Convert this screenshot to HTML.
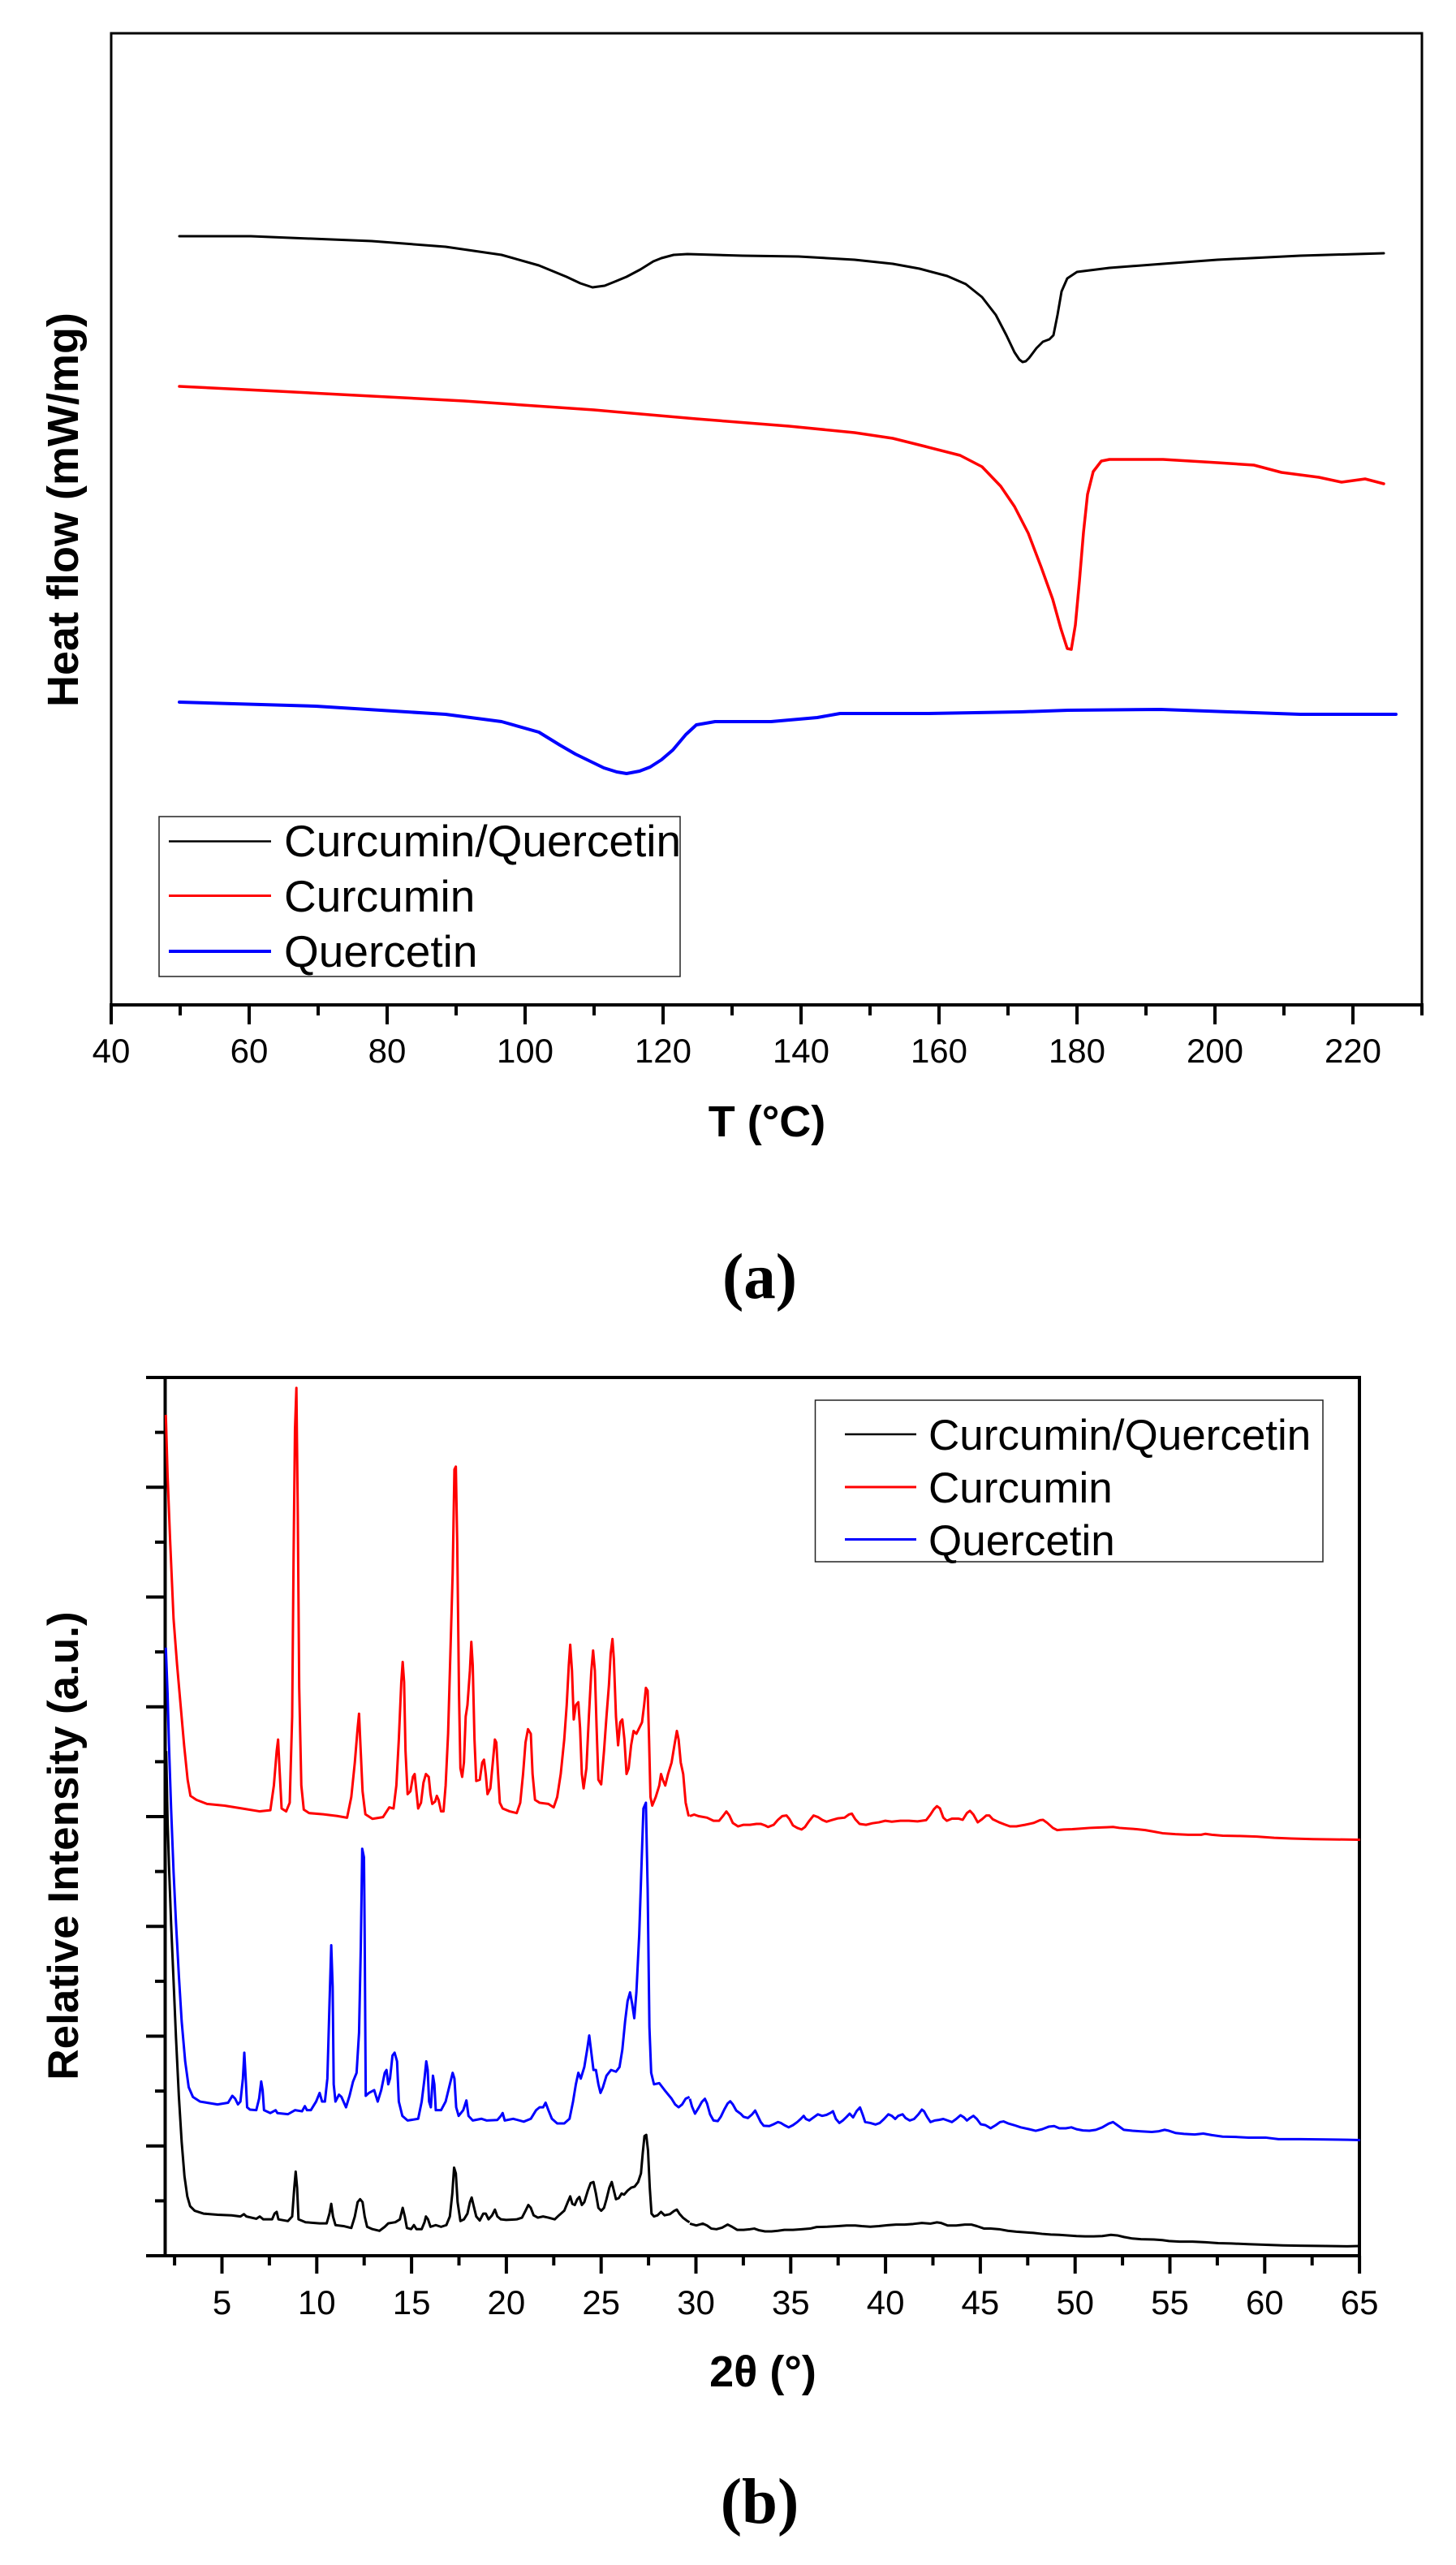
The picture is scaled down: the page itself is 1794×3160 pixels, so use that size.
<!DOCTYPE html>
<html>
<head>
<meta charset="utf-8">
<style>
html,body{margin:0;padding:0;background:#fff;}
svg{display:block;}
text{font-family:"Liberation Sans",Arial,sans-serif;fill:#000;}
.ser{font-family:"Liberation Serif","Times New Roman",serif;font-weight:bold;}
</style>
</head>
<body>
<svg width="1794" height="3160" viewBox="0 0 1794 3160" xmlns="http://www.w3.org/2000/svg">
<rect x="0" y="0" width="1794" height="3160" fill="#fff"/>

<!-- Panel A -->
<rect x="137" y="41" width="1615" height="1197" fill="none" stroke="#000" stroke-width="3"/>
<path d="M135,1238H1754 M137,1238v24 M307,1238v24 M477,1238v24 M647,1238v24 M817,1238v24 M987,1238v24 M1157,1238v24 M1327,1238v24 M1497,1238v24 M1667,1238v24 M222,1238v13 M392,1238v13 M562,1238v13 M732,1238v13 M902,1238v13 M1072,1238v13 M1242,1238v13 M1412,1238v13 M1582,1238v13 M1752,1238v13" stroke="#000" stroke-width="4" fill="none"/>
<g font-size="42" text-anchor="middle">
<text x="137" y="1309">40</text><text x="307" y="1309">60</text><text x="477" y="1309">80</text><text x="647" y="1309">100</text><text x="817" y="1309">120</text><text x="987" y="1309">140</text><text x="1157" y="1309">160</text><text x="1327" y="1309">180</text><text x="1497" y="1309">200</text><text x="1667" y="1309">220</text>
</g>

<g fill="none" stroke-linejoin="round" stroke-linecap="round">
<polyline stroke="#000" stroke-width="3" points="221,291 309,291 458,297 549,304 618,314 664,327 698,341 715,349 730,354 745,352 755,348 772,341 789,332 805,322 815,318 830,314 847,313 915,315 984,316 1053,320 1100,325 1133,331 1167,340 1190,350 1210,366 1227,388 1240,413 1250,434 1256,443 1260,446 1264,445 1268,441 1277,429 1285,421 1293,418 1298,413 1303,388 1308,359 1315,343 1327,335 1367,330 1433,325 1500,320 1602,315 1705,312"/>
<polyline stroke="#ff0000" stroke-width="3.5" points="221,476 343,482 458,488 572,494 732,505 858,516 972,525 1053,533 1100,540 1140,550 1183,561 1210,575 1233,599 1250,624 1267,657 1283,699 1297,738 1307,774 1315,799 1320,800 1325,770 1330,716 1335,656 1340,609 1347,581 1357,568 1367,566 1433,566 1500,570 1545,573 1579,582 1625,588 1653,594 1682,590 1705,596"/>
<polyline stroke="#0000ff" stroke-width="4" points="221,865 389,870 549,880 618,889 664,902 690,918 709,929 744,946 760,951 772,953 788,950 801,945 815,936 829,924 845,905 858,893 881,889 950,889 1007,884 1035,879 1144,879 1258,877 1316,875 1430,874 1487,876 1602,880 1720,880"/>
</g>

<rect x="196" y="1006" width="642" height="197" fill="#fff" stroke="#222" stroke-width="1.5"/>
<path d="M208,1036.5H334" stroke="#000" stroke-width="2.5"/>
<path d="M208,1103.5H334" stroke="#ff0000" stroke-width="3"/>
<path d="M208,1172H334" stroke="#0000ff" stroke-width="4"/>
<g font-size="55">
<text x="350" y="1055">Curcumin/Quercetin</text>
<text x="350" y="1123">Curcumin</text>
<text x="350" y="1191">Quercetin</text>
</g>

<text transform="translate(96,628) rotate(-90)" text-anchor="middle" font-size="54" font-weight="bold">Heat flow (mW/mg)</text>
<text x="945" y="1400" text-anchor="middle" font-size="54" font-weight="bold">T (°C)</text>
<text class="ser" x="936" y="1599" text-anchor="middle" font-size="79">(a)</text>

<!-- Panel B -->
<rect x="203.5" y="1697" width="1471.5" height="1082" fill="none" stroke="#000" stroke-width="4"/>
<path d="M180,1697h24 M180,1832.3h24 M180,1967.5h24 M180,2102.8h24 M180,2238h24 M180,2373.3h24 M180,2508.5h24 M180,2643.8h24 M180,2779h24 M191,1764.6h13 M191,1899.9h13 M191,2035.1h13 M191,2170.4h13 M191,2305.6h13 M191,2440.9h13 M191,2576.1h13 M191,2711.4h13 M273.5,2779v22 M390.3,2779v22 M507.1,2779v22 M623.9,2779v22 M740.7,2779v22 M857.5,2779v22 M974.3,2779v22 M1091.1,2779v22 M1207.9,2779v22 M1324.7,2779v22 M1441.5,2779v22 M1558.3,2779v22 M1675.1,2779v22 M215.1,2779v12 M331.9,2779v12 M448.7,2779v12 M565.5,2779v12 M682.3,2779v12 M799.1,2779v12 M915.9,2779v12 M1032.7,2779v12 M1149.5,2779v12 M1266.3,2779v12 M1383.1,2779v12 M1499.9,2779v12 M1616.7,2779v12" stroke="#000" stroke-width="4" fill="none"/>
<g font-size="42" text-anchor="middle">
<text x="273.5" y="2851">5</text><text x="390.3" y="2851">10</text><text x="507.1" y="2851">15</text><text x="623.9" y="2851">20</text><text x="740.7" y="2851">25</text><text x="857.5" y="2851">30</text><text x="974.3" y="2851">35</text><text x="1091.1" y="2851">40</text><text x="1207.9" y="2851">45</text><text x="1324.7" y="2851">50</text><text x="1441.5" y="2851">55</text><text x="1558.3" y="2851">60</text><text x="1675.1" y="2851">65</text>
</g>

<g transform="translate(190,1690) scale(0.43367,0.70791)" fill="none" stroke-width="3" stroke-linejoin="round">
<polyline vector-effect="non-scaling-stroke" stroke="#ff0000" points="33,75 38,180 45,290 55,430 65,510 75,580 85,650 95,710 103,738 120,745 150,752 200,755 250,760 300,765 330,763 340,720 348,660 352,640 356,690 362,760 375,765 385,750 392,600 396,320 400,100 404,28 408,250 412,550 418,720 425,762 440,768 480,770 520,773 548,776 560,740 570,680 578,620 582,595 586,650 592,730 600,770 620,778 650,775 668,758 680,760 688,720 695,640 702,540 706,505 710,540 714,660 720,735 728,730 735,705 740,700 745,730 750,760 758,750 765,715 772,700 780,705 785,735 790,752 798,748 803,738 808,745 815,765 822,765 828,720 835,630 842,480 848,350 853,170 857,165 861,300 866,560 870,690 875,705 880,680 885,600 890,580 897,520 901,470 905,510 910,640 915,712 925,710 932,680 937,675 942,700 947,735 955,725 962,680 968,640 972,645 977,700 982,750 990,760 1010,765 1030,768 1040,750 1048,700 1055,645 1062,622 1070,630 1075,700 1082,745 1095,750 1120,752 1135,758 1145,740 1155,700 1165,640 1172,580 1178,510 1182,475 1187,520 1192,605 1198,580 1205,575 1210,620 1215,700 1220,725 1228,690 1235,600 1242,520 1247,485 1252,520 1257,620 1262,710 1270,718 1278,660 1285,600 1292,545 1297,490 1302,465 1306,500 1312,600 1318,650 1324,610 1330,605 1336,640 1342,700 1348,690 1355,650 1362,625 1370,630 1378,620 1386,610 1392,580 1397,550 1402,555 1406,640 1410,740 1415,755 1425,740 1435,720 1440,700 1445,710 1452,720 1460,700 1470,680 1478,650 1485,625 1490,640 1496,680 1503,700 1510,750 1518,772 1521,772"/>
<polyline vector-effect="non-scaling-stroke" stroke="#0000ff" points="33,480 38,560 42,650 48,760 55,870 62,960 70,1050 78,1130 88,1200 98,1245 110,1262 130,1270 150,1272 180,1275 210,1272 222,1260 230,1265 238,1275 245,1270 252,1230 256,1185 260,1230 264,1280 272,1284 290,1285 298,1265 304,1235 308,1250 312,1285 330,1290 345,1285 350,1290 380,1292 400,1285 420,1287 428,1278 434,1285 445,1285 460,1270 470,1255 477,1270 485,1270 492,1230 498,1100 503,998 507,1070 510,1240 515,1270 525,1258 532,1262 545,1280 555,1260 565,1235 575,1220 582,1150 587,1000 591,830 596,845 598,980 601,1260 610,1255 625,1250 635,1270 645,1250 655,1220 660,1215 665,1240 670,1230 677,1190 683,1185 690,1200 695,1270 705,1295 720,1303 750,1300 760,1270 768,1230 773,1200 777,1215 781,1270 786,1280 792,1225 796,1240 800,1285 815,1285 828,1270 838,1245 848,1220 853,1230 858,1280 865,1295 878,1285 887,1268 893,1295 905,1303 930,1300 945,1303 975,1302 985,1295 990,1290 996,1303 1020,1300 1050,1305 1070,1300 1085,1285 1095,1280 1105,1280 1112,1272 1120,1285 1130,1300 1145,1308 1165,1308 1180,1300 1190,1270 1198,1240 1205,1220 1212,1230 1222,1210 1230,1180 1236,1155 1242,1185 1248,1215 1255,1215 1262,1240 1268,1255 1275,1245 1285,1225 1298,1215 1312,1218 1322,1210 1330,1180 1338,1130 1345,1095 1352,1080 1358,1100 1364,1125 1370,1080 1378,980 1385,850 1390,760 1397,750 1402,900 1407,1140 1412,1220 1420,1240 1435,1238 1450,1250 1470,1265 1480,1275 1490,1280 1500,1275 1510,1265 1521,1262"/>
<polyline vector-effect="non-scaling-stroke" stroke="#000" points="34,660 38,780 42,860 48,960 55,1060 62,1160 70,1260 78,1340 86,1400 94,1435 102,1452 115,1460 140,1465 180,1467 220,1468 245,1470 255,1466 262,1470 290,1474 300,1470 310,1475 335,1475 342,1465 348,1462 353,1475 380,1478 392,1470 398,1420 402,1392 406,1420 410,1475 430,1480 470,1482 490,1482 498,1465 503,1448 508,1470 515,1485 540,1487 560,1490 570,1470 578,1445 585,1440 592,1445 598,1470 605,1488 620,1492 640,1495 655,1488 665,1482 685,1480 698,1475 706,1455 712,1470 718,1490 730,1492 738,1485 745,1492 760,1492 768,1480 772,1470 778,1475 785,1488 800,1485 815,1488 830,1485 840,1470 847,1430 852,1385 857,1395 862,1445 870,1478 880,1475 890,1465 897,1445 902,1437 907,1450 915,1470 925,1477 935,1465 942,1465 950,1475 960,1468 968,1458 975,1470 985,1475 1000,1476 1030,1475 1045,1472 1055,1460 1063,1450 1070,1455 1078,1468 1090,1472 1105,1470 1120,1472 1138,1475 1150,1468 1165,1460 1175,1445 1182,1435 1188,1448 1195,1450 1202,1440 1208,1436 1215,1450 1222,1445 1232,1425 1240,1412 1248,1410 1255,1430 1262,1455 1270,1460 1278,1455 1285,1440 1293,1420 1300,1410 1306,1425 1312,1440 1320,1438 1328,1430 1335,1432 1345,1425 1355,1420 1365,1418 1375,1410 1383,1395 1388,1360 1393,1330 1398,1328 1403,1355 1408,1420 1413,1465 1420,1470 1430,1468 1440,1462 1450,1468 1465,1466 1478,1460 1485,1458 1492,1465 1502,1472 1515,1478 1521,1480"/>
</g>

<g transform="translate(850,2180) scale(0.52938,0.38265)" fill="none" stroke-width="3" stroke-linejoin="round">
<polyline vector-effect="non-scaling-stroke" stroke="#ff0000" points="0,150 10,145 20,150 40,155 55,165 68,165 78,148 85,135 92,148 100,172 112,183 125,178 140,178 155,175 165,175 175,180 182,185 195,178 205,162 215,150 225,148 232,160 240,180 250,188 260,193 268,185 278,165 288,148 298,153 308,162 318,168 330,163 345,157 360,155 370,145 377,142 385,160 395,175 410,178 425,173 440,170 455,165 470,168 490,165 510,165 530,167 550,163 560,145 568,128 575,118 582,125 590,155 598,165 610,158 625,158 635,162 645,140 652,133 660,145 670,170 680,160 690,148 697,148 705,160 720,170 735,178 745,183 760,183 780,178 800,172 815,163 822,162 832,172 845,188 855,195 870,193 890,192 910,190 930,188 950,187 970,186 985,185 1000,188 1020,190 1040,192 1060,195 1080,200 1100,205 1130,208 1160,210 1190,210 1200,207 1215,210 1240,213 1280,214 1320,216 1360,220 1400,222 1450,224 1500,225 1560,226"/>
<polyline vector-effect="non-scaling-stroke" stroke="#0000ff" points="0,1060 5,1085 12,1108 20,1090 28,1070 35,1060 40,1075 47,1110 55,1130 65,1132 72,1118 80,1095 88,1075 94,1068 100,1078 108,1098 118,1108 125,1118 135,1122 145,1110 152,1098 158,1115 165,1135 172,1147 185,1148 195,1142 205,1135 212,1138 220,1145 230,1152 240,1145 250,1135 258,1125 265,1115 270,1125 278,1130 288,1120 298,1110 308,1115 318,1112 328,1105 333,1100 340,1125 348,1138 356,1130 365,1118 372,1108 380,1120 388,1100 396,1088 402,1110 408,1135 420,1138 432,1143 442,1138 452,1125 462,1110 470,1115 478,1125 485,1115 495,1110 502,1122 512,1130 522,1125 532,1110 540,1095 545,1100 552,1118 560,1135 570,1130 580,1128 590,1125 600,1130 610,1135 620,1125 630,1113 638,1120 645,1130 652,1122 660,1115 668,1125 677,1142 688,1145 700,1155 712,1145 722,1135 730,1133 742,1140 755,1145 770,1152 790,1158 805,1163 820,1158 835,1150 848,1148 860,1155 875,1155 888,1152 900,1158 915,1162 930,1163 945,1160 960,1152 975,1140 985,1135 995,1145 1010,1160 1030,1163 1050,1165 1075,1167 1090,1165 1105,1160 1115,1163 1130,1170 1150,1173 1175,1175 1195,1172 1215,1177 1240,1182 1270,1183 1300,1185 1340,1185 1370,1190 1420,1190 1480,1191 1530,1192 1560,1193"/>
<polyline vector-effect="non-scaling-stroke" stroke="#000" points="0,1462 15,1468 30,1462 40,1468 50,1478 62,1480 75,1475 88,1465 98,1472 110,1482 125,1482 140,1480 150,1478 160,1483 175,1487 190,1487 205,1485 220,1482 240,1482 260,1480 280,1478 295,1473 320,1472 345,1470 365,1468 385,1468 400,1470 420,1472 440,1470 460,1467 480,1465 500,1465 520,1463 540,1460 560,1462 575,1458 585,1460 600,1468 620,1468 640,1465 655,1465 668,1470 685,1478 700,1478 720,1480 740,1485 760,1488 780,1490 800,1492 820,1495 840,1497 860,1498 880,1500 900,1502 920,1503 940,1503 960,1502 980,1498 995,1500 1010,1505 1030,1510 1050,1512 1080,1513 1100,1515 1115,1518 1140,1520 1170,1520 1200,1522 1230,1525 1260,1526 1300,1528 1340,1530 1380,1532 1420,1533 1480,1534 1530,1535 1560,1534"/>
</g>

<rect x="1004.5" y="1725" width="625.5" height="199" fill="#fff" stroke="#222" stroke-width="1.5"/>
<path d="M1041,1767H1129" stroke="#000" stroke-width="2.5"/>
<path d="M1041,1832H1129" stroke="#ff0000" stroke-width="3"/>
<path d="M1041,1896.5H1129" stroke="#0000ff" stroke-width="3"/>
<g font-size="53">
<text x="1144" y="1786">Curcumin/Quercetin</text>
<text x="1144" y="1851">Curcumin</text>
<text x="1144" y="1916">Quercetin</text>
</g>

<text transform="translate(96,2274) rotate(-90)" text-anchor="middle" font-size="53" font-weight="bold">Relative Intensity (a.u.)</text>
<text x="940" y="2940" text-anchor="middle" font-size="54" font-weight="bold">2θ (°)</text>
<text class="ser" x="936" y="3108" text-anchor="middle" font-size="79">(b)</text>
</svg>
</body>
</html>
